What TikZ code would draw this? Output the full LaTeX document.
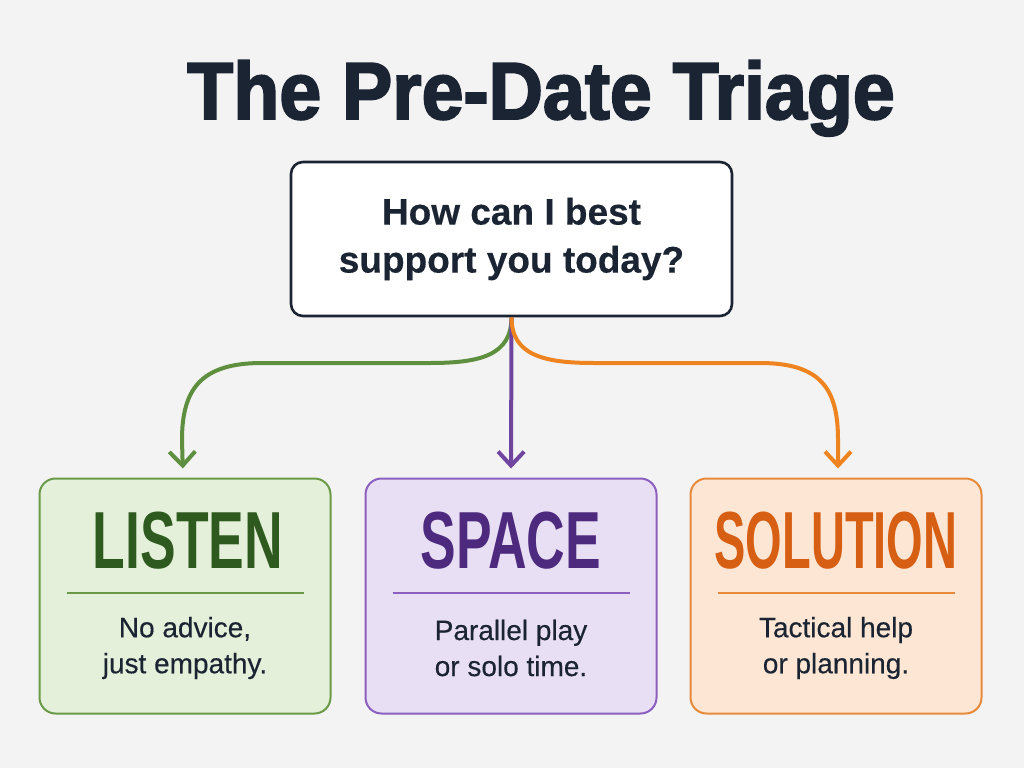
\documentclass[tikz,border=0pt]{standalone}
\usepackage{fontspec}
\setmainfont{Liberation Sans}[FakeBold=0.35]
\newfontfamily\headfont{Liberation Sans}[FakeStretch=0.93,FakeBold=2.4]
\newfontfamily\condfont{Liberation Sans}[FakeStretch=0.66]
\newfontfamily\narrowfont{Liberation Sans}[FakeStretch=0.58]
\usetikzlibrary{arrows.meta,positioning}

\definecolor{pageback}{HTML}{F3F3F3}
\definecolor{navy}{HTML}{1B2433}
\definecolor{lgreen}{HTML}{6A9A48}
\definecolor{fgreen}{HTML}{E4F0D9}
\definecolor{tgreen}{HTML}{2F5A1F}
\definecolor{agreen}{HTML}{5E8F3E}
\definecolor{lpurple}{HTML}{8C5FBF}
\definecolor{fpurple}{HTML}{E8DFF4}
\definecolor{tpurple}{HTML}{4E2A7F}
\definecolor{apurple}{HTML}{7045A0}
\definecolor{lorange}{HTML}{E88A3C}
\definecolor{forange}{HTML}{FDE7D4}
\definecolor{torange}{HTML}{D65F14}
\definecolor{aorange}{HTML}{EE8420}

\tikzset{
  qbox/.style={draw=navy,line width=2.6pt,fill=white,rounded corners=12pt,
    minimum width=441pt,minimum height=154pt,align=center,text=navy,
    font=\fontsize{37}{48}\selectfont\bfseries},
  card/.style={line width=2pt,rounded corners=16pt,minimum width=291pt,
    minimum height=235pt,inner sep=0pt},
  cardhead/.style={font=\condfont\fontsize{81}{81}\selectfont\bfseries,inner sep=0pt},
  cardtext/.style={align=center,text=navy,font=\fontsize{28}{36}\selectfont},
  branch/.style={line width=4pt,-{Straight Barb[length=14pt,width=26pt,line width=4pt]},
    shorten >=9pt}
}

\begin{document}
\begin{tikzpicture}[x=1pt,y=-1pt]
\useasboundingbox[fill=pageback] (0,0) rectangle (1024,768);

% Title
\node[text=navy,anchor=base,inner sep=0pt,font=\headfont\fontsize{81}{81}\selectfont\bfseries] (title) at (541,119) {The Pre-Date Triage};

% Question Box
\node[qbox] (q) at (511.5,239) {How can I best\\support you today?};

% Cards
\node[card,draw=lgreen,fill=fgreen] (listen) at (185,596) {};
\node[card,draw=lpurple,fill=fpurple] (space) at (511,596) {};
\node[card,draw=lorange,fill=forange] (solution) at (836,596) {};

% Card Heads
\node[cardhead,text=tgreen] (listenhead) at (188,541) {LISTEN};
\node[cardhead,text=tpurple] (spacehead) at (511,541) {SPACE};
\node[cardhead,text=torange,font=\narrowfont\fontsize{81}{81}\selectfont\bfseries] (solutionhead) at (836,541) {SOLUTION};

% Card Rules
\draw[lgreen,line width=1.6pt] ([xshift=28pt]listen.west |- 0,593) -- ([xshift=-28pt]listen.east |- 0,593);
\draw[lpurple,line width=1.6pt] ([xshift=28pt]space.west |- 0,593) -- ([xshift=-28pt]space.east |- 0,593);
\draw[lorange,line width=1.6pt] ([xshift=28pt]solution.west |- 0,593) -- ([xshift=-28pt]solution.east |- 0,593);

% Card Texts
\node[cardtext] (listentext) at (185,648) {No advice,\\just empathy.};
\node[cardtext] (spacetext) at (511,648) {Parallel play\\or solo time.};
\node[cardtext] (solutiontext) at (836,648) {Tactical help\\or planning.};

% Connections
\draw[branch,agreen] (q.south) .. controls ([yshift=-38pt]q.south) and (480,363) .. (430,363)
  -- (262,363) .. controls (200,363) and (182,390) .. (182,440) -- ([xshift=-2pt]listen.north);
\draw[branch,apurple] (q.south) -- (space.north);
\draw[branch,aorange] (q.south) .. controls ([yshift=-38pt]q.south) and (544,363) .. (594,363)
  -- (760,363) .. controls (822,363) and (838,390) .. (838,440) -- ([xshift=2pt]solution.north);

\end{tikzpicture}
\end{document}
